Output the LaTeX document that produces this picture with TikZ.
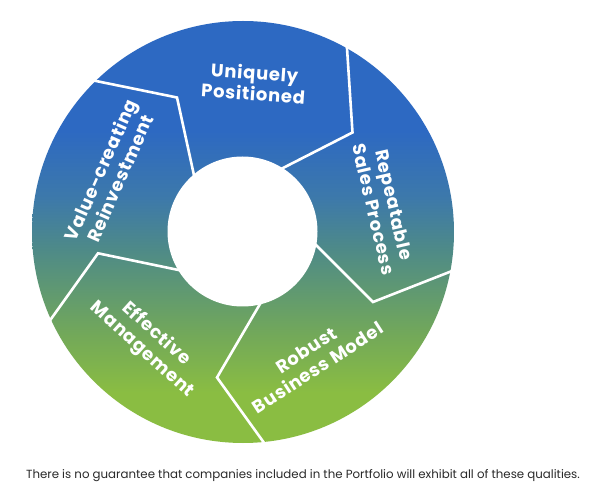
\documentclass[tikz,border=0pt]{standalone}
\usepackage{fontspec}
\setmainfont{Poppins}
\usetikzlibrary{calc}
\definecolor{cblue}{HTML}{2D69C2}
\definecolor{cblue2}{HTML}{3D79AA}
\definecolor{cteal}{HTML}{4E8A88}
\definecolor{cgreen2}{HTML}{72A85A}
\definecolor{cgreen}{HTML}{8ABD42}
\definecolor{notegray}{HTML}{2A2A2A}
\pgfdeclareverticalshading{ringshade}{100bp}{color(0bp)=(cgreen); color(31bp)=(cgreen); color(38bp)=(cgreen2); color(48bp)=(cteal); color(54bp)=(cblue2); color(62bp)=(cblue); color(100bp)=(cblue)}
\begin{document}
\begin{tikzpicture}[x=1pt,y=-1pt,
  lbl/.style={text=white, font=\bfseries\fontsize{18}{21}\selectfont\addfontfeature{LetterSpace=4}, align=center, inner sep=0pt},
  divider/.style={draw=white, line width=2.6pt, line join=miter},
  notetext/.style={text=notegray, font=\fontsize{11.8}{13}\selectfont, inner sep=0pt}]
\useasboundingbox (0,0) rectangle (600,494);
\fill[white] (0,0) rectangle (600,494);
% ring
\coordinate (C) at (243,232);
\coordinate (Ci) at (242.5,231.5);
\shade[shading=ringshade] (C) circle[radius=211];
\fill[white] (Ci) circle[radius=75];
% dividers: inner, bend, outer
\coordinate (Ai) at (193.5,173);  \coordinate (Ab) at (177,97.5);  \coordinate (Ao) at (93.5,80.5);
\coordinate (Bi) at (283,168);    \coordinate (Bb) at (352.5,132.5); \coordinate (Bo) at (347,48);
\coordinate (Di) at (316,245);    \coordinate (Db) at (373,302);   \coordinate (Do) at (449.5,272);
\coordinate (Ei) at (260,304);    \coordinate (Eb) at (217,377.5); \coordinate (Eo) at (262,440);
\coordinate (Fi) at (178.5,270);  \coordinate (Fb) at (98,253.3);  \coordinate (Fo) at (51,319);
\foreach \s in {A,B,D,E,F}{
  \draw[divider] ($(\s b)!1.25!(\s i)$) -- (\s b) -- ($(\s b)!1.12!(\s o)$);
}
% labels
\node[lbl, rotate=-4] (up) at (254,83) {Uniquely\\Positioned};
\node[lbl, rotate=-77] (rs) at (384,207) {Repeatable\\Sales Process};
\node[lbl, rotate=33] (rb) at (312,359) {Robust\\Business Model};
\node[lbl, rotate=-42] (em) at (149,342) {Effective\\Management};
\node[lbl, rotate=66] (vr) at (110,174) {Value-creating\\Reinvestment};
% footnote
\node[notetext] (note) at (303,476) {There is no guarantee that companies included in the Portfolio will exhibit all of these qualities.};
\end{tikzpicture}
\end{document}
